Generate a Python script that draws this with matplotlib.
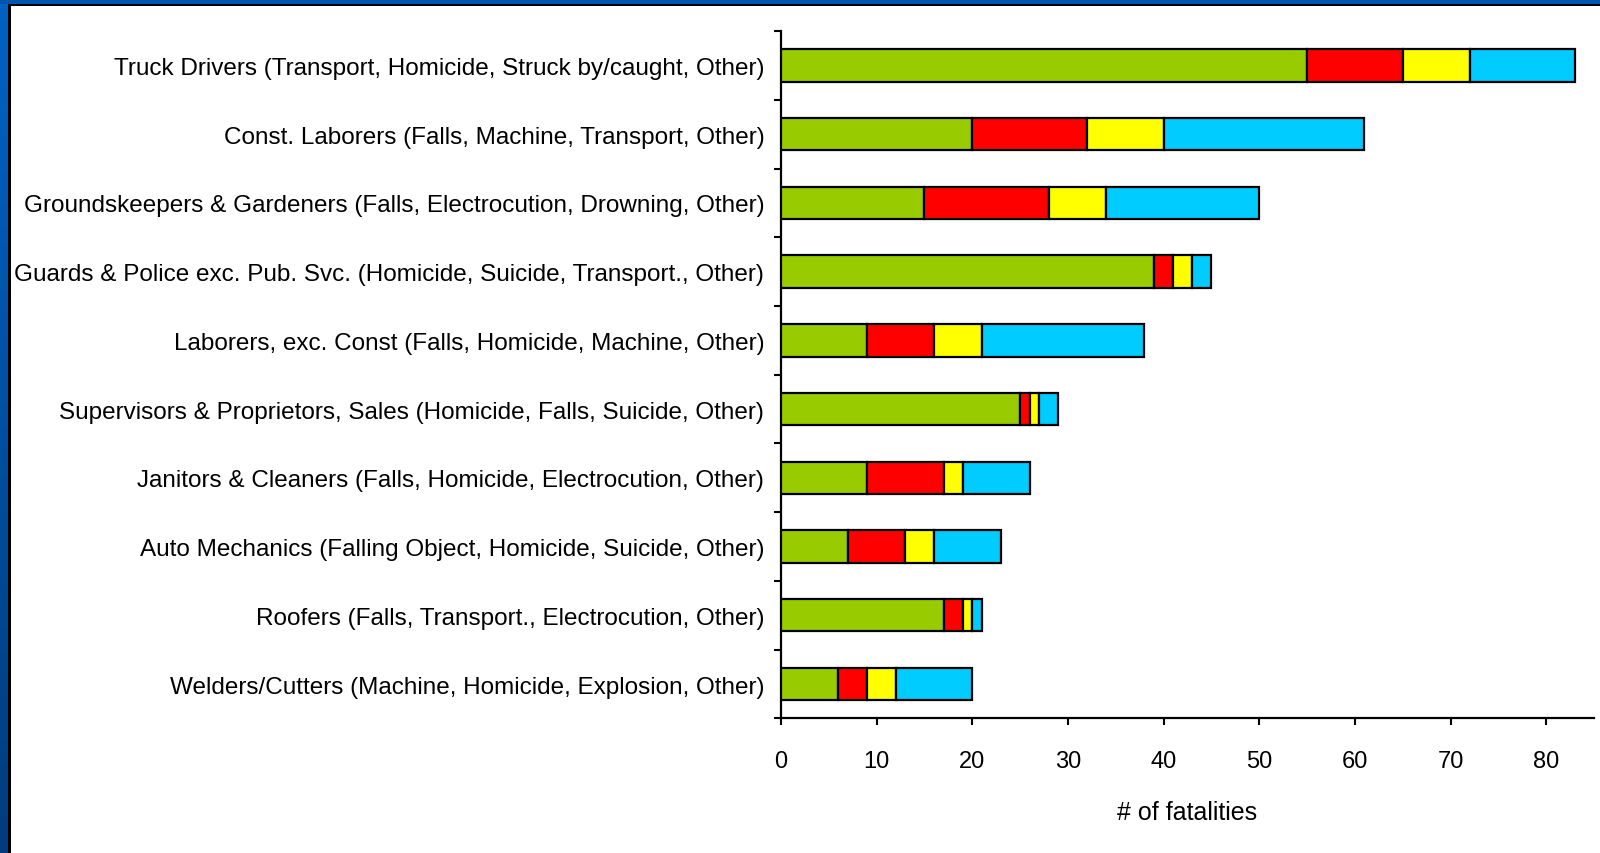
import numpy as np
import matplotlib
matplotlib.use("Agg")
import matplotlib.pyplot as plt
from matplotlib.patches import Rectangle
from matplotlib.ticker import FixedLocator

plt.rcParams['font.family'] = ['Liberation Sans', 'DejaVu Sans']

# ── Données ──────────────────────────────────────────────────────────────────
occupations = [
    "Truck Drivers (Transport, Homicide, Struck by/caught, Other)",
    "Const. Laborers (Falls, Machine, Transport, Other)",
    "Groundskeepers & Gardeners (Falls, Electrocution, Drowning, Other)",
    "Guards & Police exc. Pub. Svc. (Homicide, Suicide, Transport., Other)",
    "Laborers, exc. Const (Falls, Homicide, Machine, Other)",
    "Supervisors & Proprietors, Sales (Homicide, Falls, Suicide, Other)",
    "Janitors & Cleaners (Falls, Homicide, Electrocution, Other)",
    "Auto Mechanics (Falling Object, Homicide, Suicide, Other)",
    "Roofers (Falls, Transport., Electrocution, Other)",
    "Welders/Cutters (Machine, Homicide, Explosion, Other)",
]
cause1 = [55, 20, 15, 39, 9, 25, 9, 7, 17, 6]
cause2 = [10, 12, 13, 2, 7, 1, 8, 6, 2, 3]
cause3 = [7, 8, 6, 2, 5, 1, 2, 3, 1, 3]
other  = [11, 21, 16, 2, 17, 2, 7, 7, 1, 8]

colors = ['#99CC00', '#FF0000', '#FFFF00', '#00CCFF']
xticks = [0, 10, 20, 30, 40, 50, 60, 70, 80]

# ── Figure ───────────────────────────────────────────────────────────────────
fig = plt.figure(figsize=(16, 8.54), dpi=100)
W, H = 1600, 854

# cadre bleu (haut + gauche) avec filet noir
grad = fig.add_axes([0, 0, 8 / W, 1])
grad.imshow(np.linspace(0, 1, 256).reshape(-1, 1), aspect='auto',
            cmap=matplotlib.colors.LinearSegmentedColormap.from_list(
                'cadre', ['#0062C4', '#003C7E']),
            extent=[0, 1, 0, 1], origin='upper')
grad.axis('off')
fig.patches.append(Rectangle((0, 1 - 5 / H), 1, 5 / H, transform=fig.transFigure,
                             facecolor='#0055AE', edgecolor='none', zorder=5))
fig.patches.append(Rectangle((8 / W, 0), 3 / W, 1 - 5 / H, transform=fig.transFigure,
                             facecolor='black', edgecolor='none', zorder=5))
fig.patches.append(Rectangle((8 / W, 1 - 7 / H), 1, 2 / H, transform=fig.transFigure,
                             facecolor='black', edgecolor='none', zorder=5))

ax = fig.add_axes([781 / W, 0.1576, 813 / W, 0.9625 - 0.1576])

y = np.arange(len(occupations))
left = np.zeros(len(occupations))
for vals, c in zip([cause1, cause2, cause3, other], colors):
    vals = np.array(vals, dtype=float)
    ax.barh(y, vals, left=left, height=0.47, color=c, edgecolor='black',
            linewidth=1.6, zorder=3)
    left += vals

ax.set_ylim(len(occupations) - 0.5, -0.5)
ax.set_xlim(0, 85)

ax.set_yticks(y)
ax.set_yticklabels(occupations, fontsize=17.5)
ax.yaxis.set_minor_locator(FixedLocator(np.arange(-0.5, len(occupations), 1.0)))
ax.tick_params(axis='y', which='major', length=0, pad=12)
ax.tick_params(axis='y', which='minor', length=5, width=1.5, direction='out')

ax.set_xticks(xticks)
ax.set_xticklabels([str(t) for t in xticks], fontsize=17)
ax.tick_params(axis='x', which='major', length=5, width=1.5, direction='out', pad=18)
ax.set_xlabel("# of fatalities", fontsize=18, labelpad=20)

for s in ['top', 'right']:
    ax.spines[s].set_visible(False)
for s in ['left', 'bottom']:
    ax.spines[s].set_linewidth(1.6)

plt.savefig("out.png", dpi=100)
